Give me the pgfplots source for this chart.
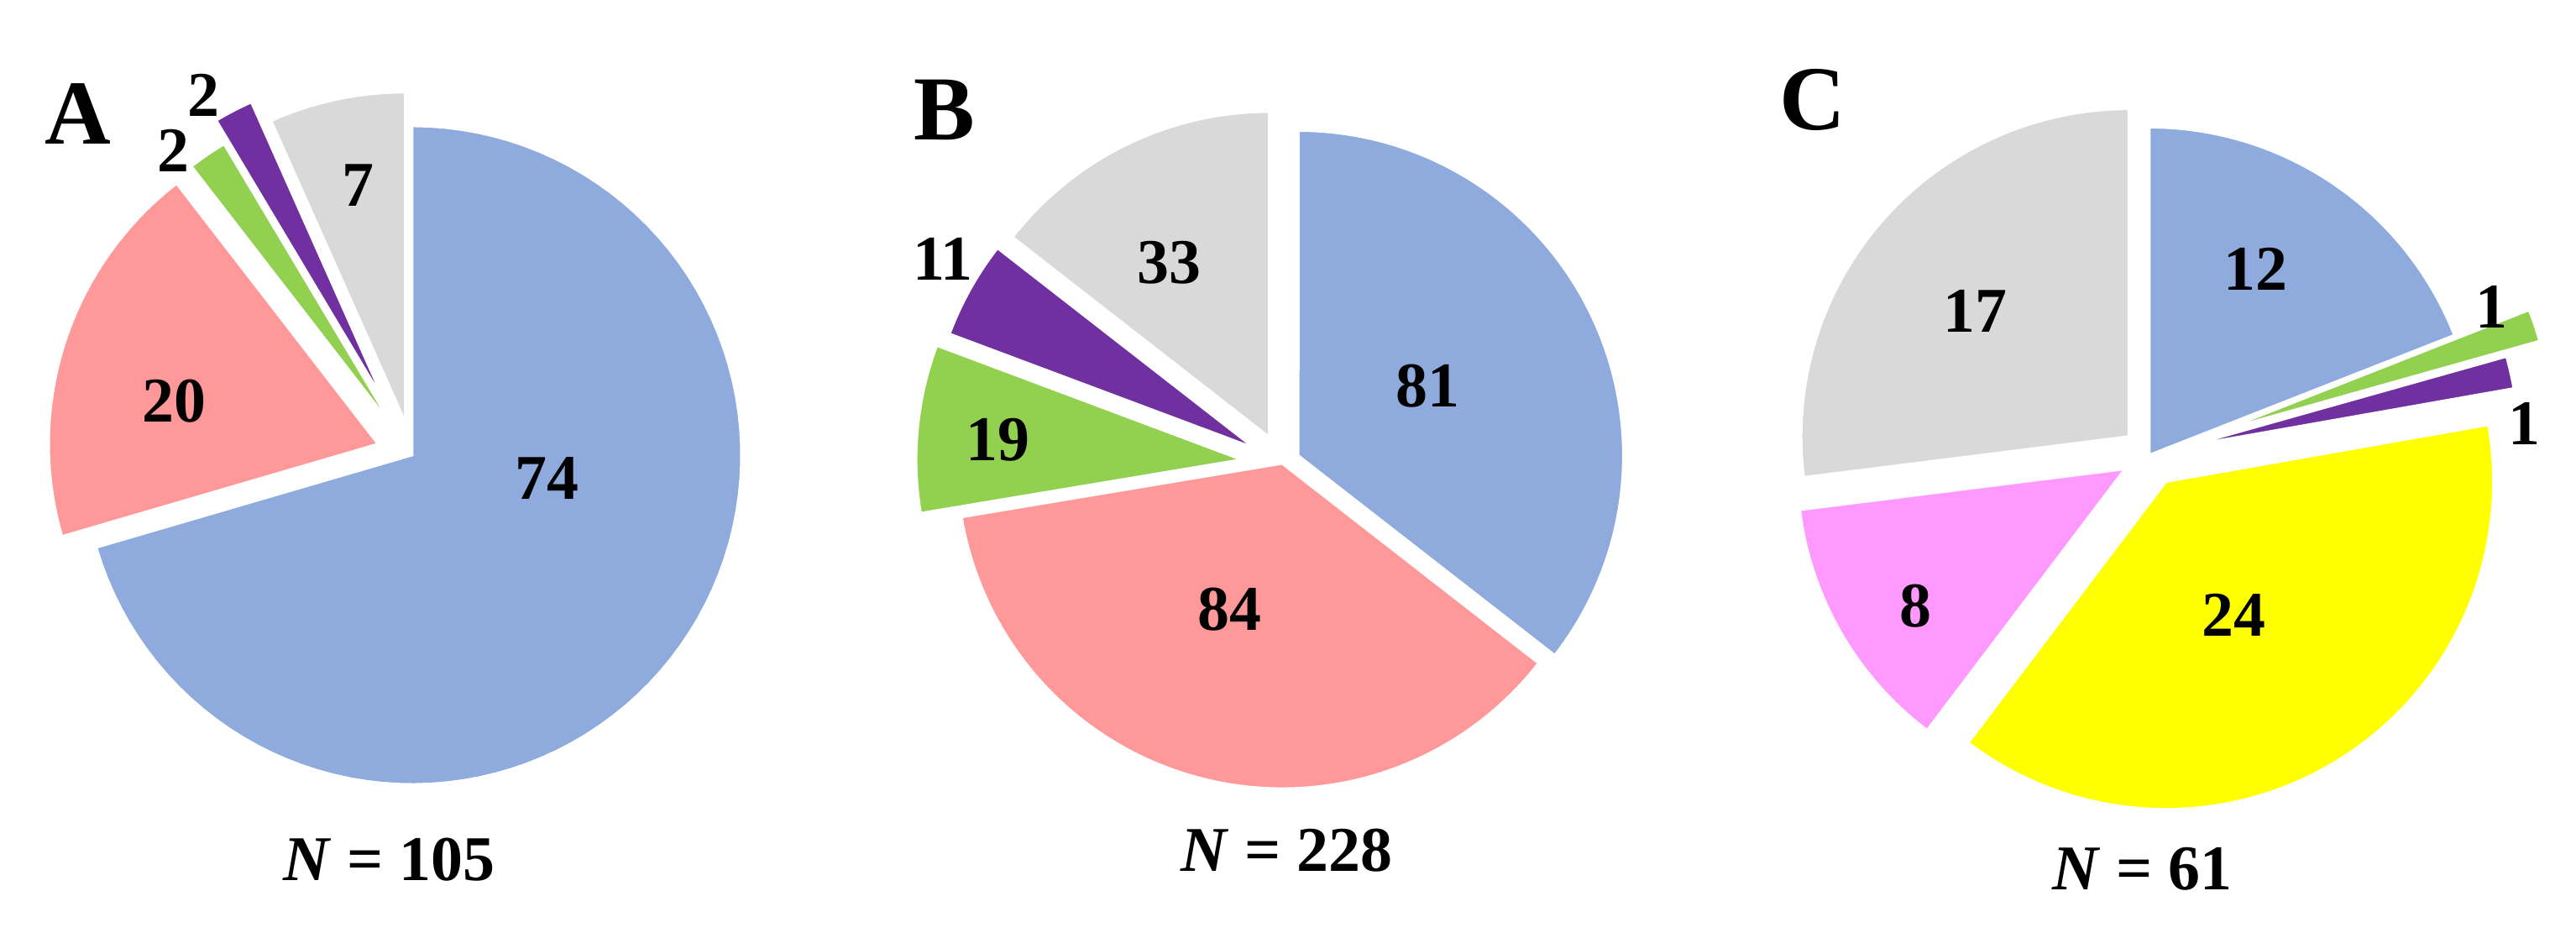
\documentclass[border=0pt]{standalone}
\usepackage{pgfplots}
\pgfplotsset{compat=1.18}
\usepackage{fontspec}
\setmainfont{Liberation Serif}
\definecolor{cblue}{HTML}{8FAADC}
\definecolor{cred}{HTML}{FF9999}
\definecolor{cgreen}{HTML}{92D050}
\definecolor{cpurple}{HTML}{7030A0}
\definecolor{cgray}{HTML}{D9D9D9}
\definecolor{cyellow}{HTML}{FFFF00}
\definecolor{cpink}{HTML}{FF99FF}
% #1 cx, #2 cy, #3 rx, #4 ry, #5 total, #6 cumulative before, #7 count, #8 explode, #9 colour
\newcommand\slice[9]{%
  \pgfmathsetmacro\aS{90-(#6)/(#5)*360}%
  \pgfmathsetmacro\aE{90-((#6)+(#7))/(#5)*360}%
  \pgfmathsetmacro\aM{(\aS+\aE)/2}%
  \pgfmathsetmacro\ox{#1+#8*cos(\aM)}%
  \pgfmathsetmacro\oy{#2+#8*sin(\aM)}%
  \edef\doslice{\noexpand\addplot[fill=#9, draw=white, line width=0.8pt, domain=\aE:\aS, samples=90, variable=\noexpand\t]
    ({\ox+#3*cos(\noexpand\t)},{\oy+#4*sin(\noexpand\t)}) -- (axis cs:\ox,\oy) -- cycle;}%
  \doslice
}
\newcommand\numfont{\fontsize{21.6}{25}\selectfont\bfseries}
\newcommand\letfont{\fontsize{31}{36}\selectfont\bfseries}
\begin{document}
\begin{tikzpicture}
\begin{axis}[x=0.1mm, y=0.1mm, xmin=0, xmax=3068, ymin=0, ymax=1110,
  hide axis, clip=false, scale only axis]
\path (axis cs:0,0) rectangle (axis cs:3068,1110);
% Panel A: N = 105
\slice{491}{568}{392}{392}{105}{0}{74}{0}{cblue}
\slice{491}{568}{392}{392}{105}{74}{20}{43}{cred}
\slice{491}{568}{392}{392}{105}{94}{2}{41}{cgreen}
\slice{491}{568}{392}{392}{105}{96}{2}{70}{cpurple}
\slice{491}{568}{392}{392}{105}{98}{7}{41}{cgray}
% Panel B: N = 228
\slice{1527}{558}{387}{387}{228}{0}{81}{21.5}{cblue}
\slice{1527}{558}{387}{387}{228}{81}{84}{0}{cred}
\slice{1527}{558}{387}{387}{228}{165}{19}{49}{cgreen}
\slice{1527}{558}{387}{387}{228}{184}{11}{38.5}{cpurple}
\slice{1527}{558}{387}{387}{228}{195}{33}{35.5}{cgray}
% Panel C
\slice{2560}{568.4}{390}{390}{63}{0}{12}{0}{cblue}
\slice{2560}{568.4}{390}{390}{63}{12}{1}{94}{cgreen}
\slice{2560}{568.4}{390}{390}{63}{13}{1}{51}{cpurple}
\slice{2560}{568.4}{390}{390}{63}{14}{24}{37.5}{cyellow}
\slice{2560}{568.4}{390}{390}{63}{38}{8}{34}{cpink}
\slice{2560}{568.4}{390}{390}{63}{46}{17}{33}{cgray}
% labels A
\node[font=\letfont] at (axis cs:93,974.5) {A};
\node[font=\numfont] at (axis cs:651,540) {74};
\node[font=\numfont] at (axis cs:207.5,632.5) {20};
\node[font=\numfont] at (axis cs:426.5,889) {7};
\node[font=\numfont] at (axis cs:206,930.5) {2};
\node[font=\numfont] at (axis cs:242.5,996.5) {2};
\node[font=\numfont] at (axis cs:463.3,86) {\textit{N} = 105};
% labels B
\node[font=\letfont] at (axis cs:1124.5,979) {B};
\node[font=\numfont] at (axis cs:1700,650) {81};
\node[font=\numfont] at (axis cs:1464,384.4) {84};
\node[font=\numfont] at (axis cs:1188.4,586) {19};
\node[font=\numfont] at (axis cs:1123,802) {11};
\node[font=\numfont] at (axis cs:1392,797) {33};
\node[font=\numfont] at (axis cs:1532.5,97) {\textit{N} = 228};
% labels C
\node[font=\letfont] at (axis cs:2159,991) {C};
\node[font=\numfont] at (axis cs:2686.4,790) {12};
\node[font=\numfont] at (axis cs:2967,745) {1};
\node[font=\numfont] at (axis cs:3006.7,606) {1};
\node[font=\numfont] at (axis cs:2352.5,740) {17};
\node[font=\numfont] at (axis cs:2281.7,388) {8};
\node[font=\numfont] at (axis cs:2660.3,377.3) {24};
\node[font=\numfont] at (axis cs:2551.7,75) {\textit{N} = 61};
\end{axis}
\end{tikzpicture}
\end{document}
